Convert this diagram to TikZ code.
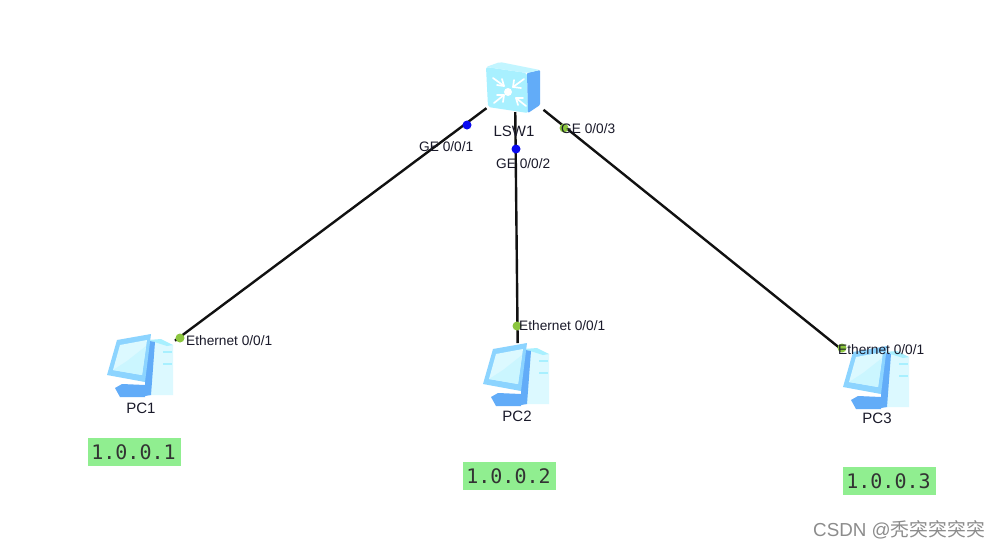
\documentclass[tikz,border=0pt]{standalone}
\usepackage{fontspec}
\setmainfont{Liberation Sans}
\newfontfamily\monoface{DejaVu Sans Mono}
\newfontfamily\cjkface{Noto Sans CJK SC}
\definecolor{linkc}{HTML}{111111}
\definecolor{dotblue}{HTML}{0A0AF0}
\definecolor{dotgreen}{HTML}{8CC63F}
\definecolor{ipgreen}{HTML}{90EE90}
\definecolor{iconlight}{HTML}{A8F0FF}
\definecolor{iconmid}{HTML}{8CD4FF}
\definecolor{iconblue}{HTML}{62ACF8}
\definecolor{iconpale}{HTML}{DCF9FF}
\definecolor{textc}{HTML}{1A1A2A}
\tikzset{
  x=1pt,y=-1pt,
  device/.style={draw=none,inner sep=0pt,outer sep=0pt,rectangle},
  linkline/.style={draw=linkc,line width=2.4pt},
  portb/.style={circle,fill=dotblue,inner sep=0pt,minimum size=9pt},
  portg/.style={circle,fill=dotgreen,inner sep=0pt,minimum size=9pt},
  portlabel/.style={font=\fontsize{13.7}{15}\selectfont,text=textc,inner sep=0pt},
  devlabel/.style={font=\fontsize{15}{17}\selectfont,text=textc,inner sep=0pt},
  iplabel/.style={fill=ipgreen,font=\monoface\fontsize{20}{22}\selectfont,text=black!80,inner sep=0pt,minimum width=93pt,minimum height=28pt},
  pcicon/.pic={
    \fill[iconpale] (7,-26) -- (32,-21) -- (32,29) -- (7,29) -- cycle;
    \fill[iconlight] (7,-26) -- (20,-27) -- (32,-21) -- (26,-20) -- cycle;
    \fill[iconlight] (22,-15) rectangle (31,-13);
    \fill[iconlight] (22,-3) rectangle (31,-1);
    \fill[iconblue] (4,-26) -- (14,-24) -- (10,29) -- (4,30) -- cycle;
    \fill[iconblue] (-26,22) -- (-19,18) -- (4,19) -- (4,31) -- (-21,31) -- cycle;
    \fill[iconmid] (-24,-26) -- (10,-32) -- (4,16) -- (-34,9) -- cycle;
    \fill[iconpale] (-21,-21) -- (6,-26) -- (1,9) -- (-28,4) -- cycle;
    \fill[iconlight!60!white] (-14,-5) -- (5,-20) -- (1,9) -- (-28,4) -- cycle;
  },
  swicon/.pic={
    \fill[iconlight,rounded corners=2pt] (-29,-20) -- (12,-14) -- (13,26) -- (-27,20) -- cycle;
    \fill[iconblue,rounded corners=1pt] (12,-14) -- (25,-17) -- (25,18) -- (13,26) -- cycle;
    \fill[iconlight!70!white,rounded corners=2pt] (-29,-20) -- (-15,-25) -- (25,-17) -- (12,-14) -- cycle;
    \fill[white] (-7,5) circle (4);
    \begin{scope}[white,line width=1.7pt,line cap=round,line join=round]
      \draw (-22,-9) -- (-11,-1); \draw (-18,-2) -- (-11,-1) -- (-13,-8);
      \draw (9,-8) -- (-2,0); \draw (-1,-7) -- (-2,0) -- (6,1);
      \draw (-21,16) -- (-11,8); \draw (-18,8) -- (-11,8) -- (-12,15);
      \draw (11,19) -- (1,11); \draw (8,11) -- (1,11) -- (3,18);
    \end{scope}
  }
}
\begin{document}
\begin{tikzpicture}
\useasboundingbox (0,0) rectangle (999,550);
\fill[white] (0,0) rectangle (999,550);

\node[device,minimum width=57pt,minimum height=50pt] (sw) at (515,87) {};
\node[device,minimum width=68pt,minimum height=64pt] (pc1) at (141,366) {};
\node[device,minimum width=68pt,minimum height=64pt] (pc2) at (518,375) {};
\node[device,minimum width=68pt,minimum height=64pt] (pc3) at (877,378) {};

\draw[linkline] (sw) -- (pc1);
\draw[linkline] (sw) -- (pc2);
\draw[linkline] (sw) -- (pc3);

\pic at (sw.center) {swicon};
\pic at (pc1.center) {pcicon};
\pic at ([xshift=-1pt]pc2.center) {pcicon};
\pic at (pc3.center) {pcicon};

\node[portb] (p1) at (467,125) {};
\node[portb] (p2) at (516,149) {};
\node[portg] (p3) at (564,128) {};
\node[portg] (e1) at (180,338) {};
\node[portg] (e2) at (517,326) {};
\node[portg] (e3) at (842,348) {};

\node[devlabel] (lsw) at (514,131) {LSW1};
\node[devlabel] (pc1t) at (141,408) {PC1};
\node[devlabel] (pc2t) at (517,416) {PC2};
\node[devlabel] (pc3t) at (877,418) {PC3};

\node[portlabel,anchor=west] (g1) at (419,147) {GE 0/0/1};
\node[portlabel,anchor=west] (g2) at (496,164) {GE 0/0/2};
\node[portlabel,anchor=west] (g3) at (561,129) {GE 0/0/3};
\node[portlabel,anchor=west] (t1) at (186,341) {Ethernet 0/0/1};
\node[portlabel,anchor=west] (t2) at (519,326) {Ethernet 0/0/1};
\node[portlabel,anchor=west] (t3) at (838,350) {Ethernet 0/0/1};

\node[iplabel] (ip1) at (134.5,452) {\hspace{-2pt}1.0.0.1};
\node[iplabel] (ip2) at (509.5,476) {\hspace{-2pt}1.0.0.2};
\node[iplabel] (ip3) at (889.5,481) {\hspace{-2pt}1.0.0.3};

\node[anchor=east,inner sep=0pt,text=black!45,font=\fontsize{18.8}{20}\selectfont] (mark) at (985,530) {CSDN @{\cjkface 秃突突突突}};
\end{tikzpicture}
\end{document}
